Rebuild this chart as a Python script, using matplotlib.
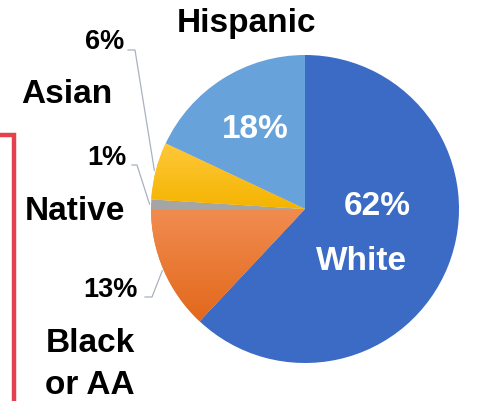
import numpy as np
import matplotlib
matplotlib.use("Agg")
import matplotlib.pyplot as plt
from matplotlib.colors import LinearSegmentedColormap

# Race / ethnicity shares (percent), drawn clockwise from 12 o'clock
groups = ["White", "Black\nor AA", "Native", "Asian", "Hispanic"]
shares = [62, 13, 1, 6, 18]
colors = ["#3B6BC4", "#EE8035", "#A5A5A5", "#FDC010", "#68A2DA"]
# vertical gradients (top colour, bottom colour) for some slices
gradients = {1: ("#F18D50", "#E2681C"), 3: ("#FFC83A", "#F4B400")}

W, H = 481, 401
fig = plt.figure(figsize=(W / 100, H / 100), dpi=100)
ax = fig.add_axes([0, 0, 1, 1])

cx, cy, r = 305, H - 209, 154
wedges, _ = ax.pie(shares, colors=colors, startangle=90, counterclock=False,
                   center=(cx, cy), radius=r,
                   wedgeprops=dict(linewidth=0))

for i, (top, bot) in gradients.items():
    w = wedges[i]
    bb = w.get_path().get_extents()
    cmap = LinearSegmentedColormap.from_list("g%d" % i, [bot, top])
    grad = np.linspace(0, 1, 256).reshape(-1, 1)
    im = ax.imshow(grad, cmap=cmap, origin="lower", aspect="auto",
                   extent=(bb.x0, bb.x1, bb.y0, bb.y1), zorder=w.get_zorder() + 0.1)
    im.set_clip_path(w)

ax.set_xlim(0, W)
ax.set_ylim(0, H)
ax.set_aspect("equal")
ax.axis("off")

font = "Liberation Sans"
big = 24
small = 19.5


def px(x, y):
    return x, H - y


# category names outside the pie
ax.text(*px(247, 32), "Hispanic", ha="center", va="baseline", fontsize=big,
        fontweight="bold", family=font, color="black")
ax.text(*px(67, 103), "Asian", ha="center", va="baseline", fontsize=big,
        fontweight="bold", family=font, color="black")
ax.text(*px(75, 220), "Native", ha="center", va="baseline", fontsize=big,
        fontweight="bold", family=font, color="black")
ax.text(*px(90, 352), "Black", ha="center", va="baseline", fontsize=big,
        fontweight="bold", family=font, color="black")
ax.text(*px(90, 394), "or AA", ha="center", va="baseline", fontsize=big,
        fontweight="bold", family=font, color="black")

# labels inside the large slices
ax.text(*px(255, 138), f"{shares[4]}%", ha="center", va="baseline", fontsize=big,
        fontweight="bold", family=font, color="white")
ax.text(*px(377, 215), f"{shares[0]}%", ha="center", va="baseline", fontsize=big,
        fontweight="bold", family=font, color="white")
ax.text(*px(361, 270), "White", ha="center", va="baseline", fontsize=big,
        fontweight="bold", family=font, color="white")

# small slices: outside labels with leader lines to the wedge edge
callouts = [
    (3, (124, 49), (128, 50), (135, 50)),
    (2, (127, 165), (132, 165), (137, 165)),
    (1, (138, 297), (145, 297), (152, 297)),
]
for idx, (tx, ty), (x0, y0), (x1, y1) in callouts:
    ax.text(*px(tx, ty), f"{shares[idx]}%", ha="right", va="baseline",
            fontsize=small, fontweight="bold", family=font, color="black")
    w = wedges[idx]
    mid = np.deg2rad((w.theta1 + w.theta2) / 2)
    ex = cx + r * 1.01 * np.cos(mid)
    ey = cy + r * 1.01 * np.sin(mid)
    ax.plot([x0, x1, ex], [H - y0, H - y1, ey], color="#A9B2BF", lw=0.9,
            zorder=5, solid_joinstyle="miter")

# red frame corner on the left edge
ax.plot([0, 14, 14], [H - 135, H - 135, 0], color="#E5414C", lw=3.2,
        solid_joinstyle="miter", clip_on=False)

fig.savefig("out.png", dpi=100, facecolor="white")
